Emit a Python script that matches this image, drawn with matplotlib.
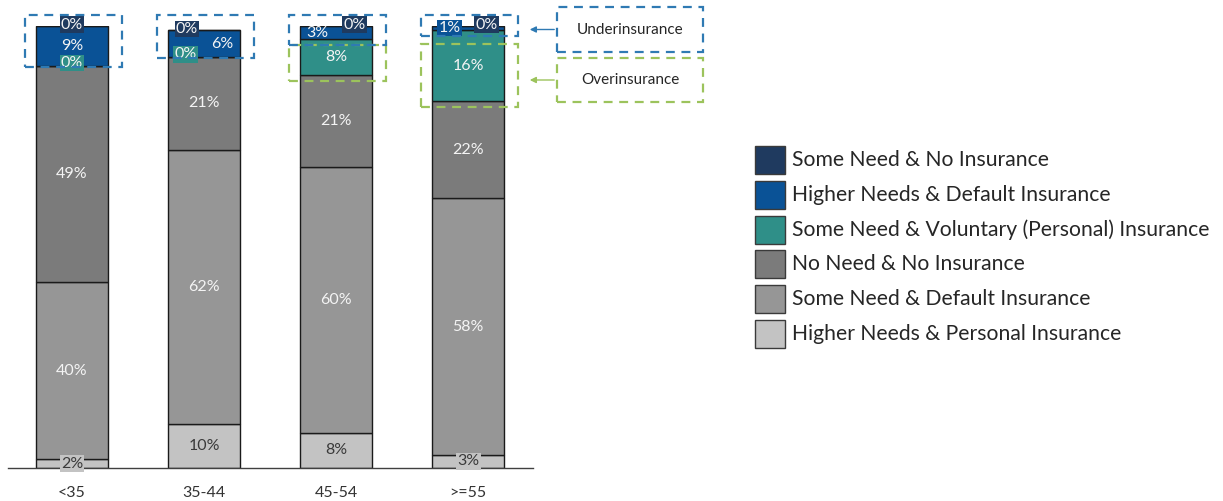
import matplotlib
matplotlib.use("Agg")
import matplotlib.pyplot as plt
from matplotlib.patches import Rectangle, FancyArrowPatch
import numpy as np

# ---- data -------------------------------------------------------------
categories = ["<35", "35-44", "45-54", ">=55"]

# stacked from the bottom up
higher_personal = [2, 10, 8, 3]    # Higher Needs & Personal Insurance
some_default = [40, 62, 60, 58]    # Some Need & Default Insurance
no_need = [49, 21, 21, 22]         # No Need & No Insurance
some_voluntary = [0, 0, 8, 16]     # Some Need & Voluntary (Personal) Insurance
higher_default = [9, 6, 3, 1]      # Higher Needs & Default Insurance
some_none = [0, 0, 0, 0]           # Some Need & No Insurance

series_names = [
    "Higher Needs & Personal Insurance",
    "Some Need & Default Insurance",
    "No Need & No Insurance",
    "Some Need & Voluntary (Personal) Insurance",
    "Higher Needs & Default Insurance",
    "Some Need & No Insurance",
]
series_values = [higher_personal, some_default, no_need,
                 some_voluntary, higher_default, some_none]

# ---- style ------------------------------------------------------------
colors = ["#c3c3c3", "#969696", "#7b7b7b", "#2f8f88", "#0a5296", "#1f3a5f"]
text_colors = ["#3a3a3a", "#f4f4f4", "#f4f4f4", "#f4f4f4", "#f4f4f4", "#f4f4f4"]
FONT = ["Lato", "DejaVu Sans"]
plt.rcParams["font.family"] = FONT

W, H = 1223, 501
fig = plt.figure(figsize=(W / 100, H / 100), dpi=100)

# axes: baseline at y=468 px, 100% at y=26 px, x spans 8..533 px
ax = fig.add_axes([8 / W, (H - 468) / H, 525 / W, 442 / H])
x = np.arange(len(categories))
bar_w = 0.545
ax.set_xlim(-0.485, 3.49)
ax.set_ylim(0, 100)

bottom = np.zeros(len(categories))
cum = []
for vals, col in zip(series_values, colors):
    vals = np.array(vals, dtype=float)
    ax.bar(x, vals, bar_w, bottom=bottom, color=col,
           edgecolor="#1a1a1a", linewidth=1.0, zorder=2)
    cum.append(bottom.copy())
    bottom = bottom + vals
cum.append(bottom.copy())

# per-label placement tweaks: (series index, bar index) -> (dx, boxed, anchor)
# anchor: 'mid' centre of segment, 'top' top edge, 'bot' bottom edge
special = {
    (5, 0): (0.0, True, "top"),
    (3, 0): (0.0, True, "bot"),
    (0, 0): (0.0, True, "mid"),
    (5, 1): (-0.13, True, "top"),
    (4, 1): (0.14, False, "mid"),
    (3, 1): (-0.14, True, "bot"),
    (5, 2): (0.14, True, "top"),
    (4, 2): (-0.14, False, "mid"),
    (5, 3): (0.14, True, "top"),
    (4, 3): (-0.14, True, "mid"),
    (0, 3): (0.0, True, "mid"),
}

for si, vals in enumerate(series_values):
    for bi, v in enumerate(vals):
        lo = cum[si][bi]
        dx, boxed, anchor = special.get((si, bi), (0.0, False, "mid"))
        if anchor == "top":
            yy = lo + v + 0.3
        elif anchor == "bot":
            yy = lo + 0.6
        else:
            yy = lo + v / 2
        kw = {}
        if boxed:
            kw["bbox"] = dict(boxstyle="square,pad=0.08", fc=colors[si],
                              ec="none")
        ax.text(x[bi] + dx, yy, f"{v}%", ha="center", va="center",
                fontsize=11.5, color=text_colors[si], zorder=4, **kw)

# axes cosmetics
for s in ["top", "left", "right"]:
    ax.spines[s].set_visible(False)
ax.spines["bottom"].set_color("#404040")
ax.spines["bottom"].set_linewidth(1.0)
ax.set_yticks([])
ax.set_xticks(x)
ax.set_xticklabels(categories, fontsize=11.5, color="#333333")
ax.tick_params(axis="x", length=0, pad=13)

# ---- dashed highlight boxes ---------------------------------------------
blue_dash = "#2f7ab3"
green_dash = "#9cc35c"
box_w = 0.73
top_y = 102.5
dash = (0, (4, 3))
for bi in range(len(categories)):
    teal_top = cum[4][bi]
    if some_voluntary[bi] > 0:
        blue_bot = teal_top - 1.2
        green_top = min(blue_bot, 96.0)
        green_bot = cum[3][bi] - 1.4
        ax.add_patch(Rectangle((x[bi] - box_w / 2 + 0.01, green_bot), box_w,
                               green_top - green_bot, fill=False,
                               ec=green_dash, lw=1.6, ls=dash,
                               clip_on=False, zorder=5))
    else:
        blue_bot = cum[3][bi] - 0.2
    ax.add_patch(Rectangle((x[bi] - box_w / 2 + 0.01, blue_bot), box_w,
                           top_y - blue_bot, fill=False, ec=blue_dash,
                           lw=1.6, ls=dash, clip_on=False, zorder=5))

# ---- callout boxes ------------------------------------------------------
for (y0, y1, label, col) in [(7, 52, "Underinsurance", blue_dash),
                              (58, 102, "Overinsurance", green_dash)]:
    fig.add_artist(Rectangle((557 / W, 1 - y1 / H), 146 / W, (y1 - y0) / H,
                             fill=False, ec=col, lw=1.6, ls=dash,
                             transform=fig.transFigure))
    ya = 1 - (y0 + y1) / 2 / H
    fig.text(630 / W, ya, label, ha="center", va="center",
             fontsize=11, color="#262626")
    fig.add_artist(FancyArrowPatch((557 / W, ya), (527 / W, ya),
                                   transform=fig.transFigure,
                                   arrowstyle="-|>", mutation_scale=9,
                                   color=col, lw=1.0))

# ---- legend -------------------------------------------------------------
legend_order = list(range(len(series_names)))[::-1]
for row, si in enumerate(legend_order):
    yc = 160 + row * 34.8
    fig.add_artist(Rectangle((755 / W, 1 - (yc + 14) / H), 30 / W, 28 / H,
                             fc=colors[si], ec="#3a3a3a", lw=1.0,
                             transform=fig.transFigure))
    fig.text(792 / W, 1 - yc / H, series_names[si], ha="left", va="center",
             fontsize=15.2, color="#262626")

fig.savefig("out.png", dpi=100)
